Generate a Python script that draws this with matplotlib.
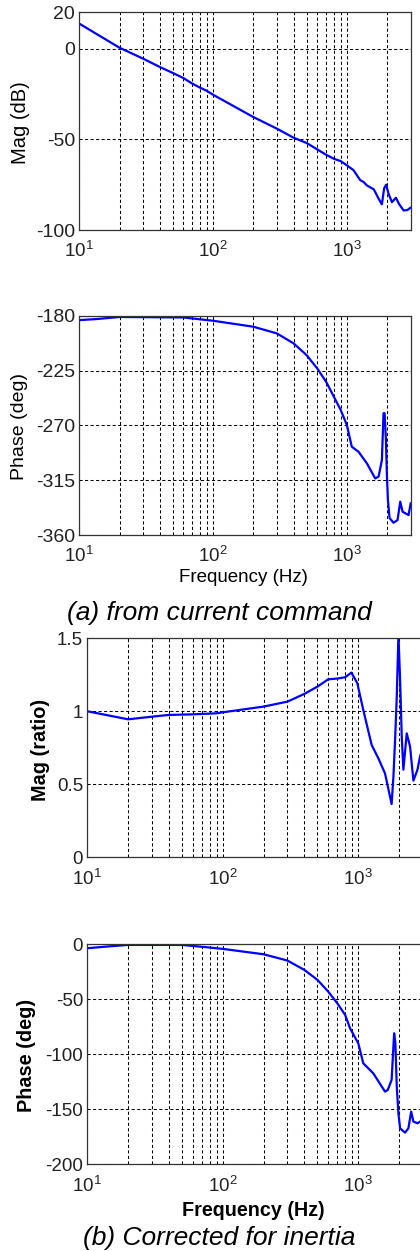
import matplotlib
matplotlib.use("Agg")
import matplotlib.pyplot as plt
from matplotlib.ticker import FixedLocator, NullFormatter

plt.rcParams['font.family'] = ['Liberation Sans', 'DejaVu Sans']
plt.rcParams['mathtext.fontset'] = 'custom'
plt.rcParams['mathtext.rm'] = 'Liberation Sans'
plt.rcParams['mathtext.it'] = 'Liberation Sans:italic'
plt.rcParams['axes.unicode_minus'] = False

# (a) from current command - magnitude (dB)
freq_a_mag = [10, 20, 30, 40, 50, 60, 70, 80, 90, 100, 200, 300, 400, 500, 600,
              700, 800, 900, 1000, 1122, 1259, 1334, 1413, 1585, 1629, 1727,
              1828, 1900, 1966, 2050, 2173, 2328, 2450, 2656, 2820, 3000]
mag_a_db = [13.8, 0.5, -5.5, -10.1, -13.4, -16.2, -19.3, -21.5, -23.3, -25.4,
            -37.7, -44.1, -49.1, -52.0, -55.5, -58.5, -60.7, -62.0, -64.3,
            -67.0, -72.5, -73.5, -75.4, -77.5, -79.0, -82.7, -85.8, -77.0,
            -75.0, -80.0, -84.6, -82.2, -85.5, -89.2, -89.0, -87.7]

# (a) from current command - phase (deg)
freq_a_ph = [10, 13.5, 20, 60, 100, 200, 300, 400, 500, 600, 700, 800, 900,
             1000, 1089, 1222, 1413, 1629, 1727, 1828, 1880, 1915, 1960, 1990,
             2027, 2086, 2234, 2393, 2506, 2611, 2893, 3000]
phase_a = [-183.6, -182.7, -181.0, -181.4, -184.1, -189.0, -194.5, -202.7,
           -212.3, -223.2, -234.2, -246.5, -257.4, -269.7, -287.5, -291.6,
           -301.2, -313.5, -312.0, -298.5, -260.0, -260.0, -282.0, -309.0,
           -331.0, -346.0, -349.9, -347.7, -332.6, -340.9, -343.6, -334.0]

# (b) corrected for inertia - magnitude (ratio)
freq_b_mag = [10, 20, 30, 40, 60, 90, 100, 200, 300, 400, 500, 600, 700, 800,
              890, 984, 1089, 1256, 1407, 1575, 1763, 1818, 1870, 1924, 1979,
              2036, 2094, 2153, 2279, 2412, 2553, 2732, 2857, 3000]
mag_b = [1.0, 0.945, 0.963, 0.975, 0.979, 0.986, 0.993, 1.032, 1.066, 1.119,
         1.169, 1.219, 1.224, 1.233, 1.265, 1.192, 1.009, 0.769, 0.678, 0.575,
         0.365, 0.553, 0.804, 1.1, 1.52, 1.216, 0.826, 0.6, 0.849, 0.758,
         0.525, 0.598, 0.689, 0.75]

# (b) corrected for inertia - phase (deg)
freq_b_ph = [10, 13.9, 20, 50, 80, 100, 200, 300, 400, 500, 600, 700, 800,
             870, 1000, 1089, 1291, 1575, 1651, 1763, 1840, 1880, 1924, 1979,
             2036, 2215, 2344, 2457, 2553, 2732, 2857, 3000]
phase_b = [-3.6, -2.1, -0.6, -0.6, -3.0, -4.2, -9.1, -14.8, -23.3, -32.4,
           -43.0, -53.6, -64.2, -76.4, -90.0, -108.2, -117.3, -133.9, -132.4,
           -123.3, -80.9, -90.0, -129.4, -153.6, -167.3, -171.2, -167.3,
           -152.1, -161.2, -162.7, -161.2, -163.0]

W, H = 420, 1251
fig = plt.figure(figsize=(W / 100, H / 100), dpi=100)

grid_minor = [20, 30, 40, 50, 60, 70, 80, 90, 200, 300, 400, 500, 600, 700,
              800, 900, 2000]


def style_axis(ax, yticks, ylim):
    ax.set_xscale('log')
    ax.set_xlim(10, 3000)
    ax.set_ylim(*ylim)
    ax.set_yticks(yticks)
    ax.set_xticks([10, 100, 1000])
    ax.set_xticklabels([r'$\mathregular{10^{1}}$', r'$\mathregular{10^{2}}$',
                        r'$\mathregular{10^{3}}$'])
    ax.xaxis.set_minor_locator(FixedLocator(grid_minor))
    ax.xaxis.set_minor_formatter(NullFormatter())
    ax.tick_params(which='both', direction='in', length=0, labelsize=14,
                   colors='#222222')
    ax.tick_params(axis='y', pad=3)
    ax.tick_params(axis='x', pad=8, labelsize=13.5)
    ax.grid(True, which='both', axis='x', color='black', linewidth=0.75,
            linestyle=(0, (3, 2.3)))
    ax.grid(True, which='major', axis='y', color='black', linewidth=0.75,
            linestyle=(0, (3, 2.3)))
    for sp in ax.spines.values():
        sp.set_color('#333333')
        sp.set_linewidth(0.9)


ax1 = fig.add_axes([0.1888, 0.8161, 0.789, 0.174])
ax1.plot(freq_a_mag, mag_a_db, color='#0000ff', linewidth=1.6)
style_axis(ax1, [-100, -50, 0, 20], (-100, 20))

ax2 = fig.add_axes([0.1888, 0.5723, 0.789, 0.1753])
ax2.plot(freq_a_ph, phase_a, color='#0000ff', linewidth=1.6)
style_axis(ax2, [-360, -315, -270, -225, -180], (-360, -180))

ax3 = fig.add_axes([0.2079, 0.3147, 0.799, 0.1751])
ax3.plot(freq_b_mag, mag_b, color='#0000ff', linewidth=1.6)
style_axis(ax3, [0, 0.5, 1, 1.5], (0, 1.5))
ax3.set_yticklabels(['0', '0.5', '1', '1.5'])
ax3.tick_params(axis='y', labelsize=13.5)

ax4 = fig.add_axes([0.2079, 0.0693, 0.799, 0.1759])
ax4.plot(freq_b_ph, phase_b, color='#0000ff', linewidth=1.6)
style_axis(ax4, [-200, -150, -100, -50, 0], (-200, 0))
ax4.set_yticklabels(['-200', '-150', '-100', '-50', '0'])
ax4.tick_params(axis='y', labelsize=13.5)

# axis labels placed in pixel positions
fig.text(20 / W, 1 - 123 / H, 'Mag (dB)', fontsize=14.5, rotation=90,
         ha='center', va='center')
fig.text(20 / W, 1 - 426 / H, 'Phase (deg)', fontsize=14, rotation=90,
         ha='center', va='center')
fig.text(243 / W, 1 - 577 / H, 'Frequency (Hz)', fontsize=13.5,
         ha='center', va='center')
fig.text(40 / W, 1 - 750 / H, 'Mag (ratio)', fontsize=14.3, rotation=90,
         fontweight='bold', ha='center', va='center')
fig.text(27 / W, 1 - 1055 / H, 'Phase (deg)', fontsize=14.3, rotation=90,
         fontweight='bold', ha='center', va='center')
fig.text(253 / W, 1 - 1210 / H, 'Frequency (Hz)', fontsize=14.2,
         fontweight='bold', ha='center', va='center')

fig.text(219 / W, 1 - 613 / H, '(a) from current command',
         fontsize=19, style='italic', ha='center', va='center')
fig.text(219 / W, 1 - 1238 / H, '(b) Corrected for inertia',
         fontsize=19, style='italic', ha='center', va='center')

fig.savefig('out.png', dpi=100)
